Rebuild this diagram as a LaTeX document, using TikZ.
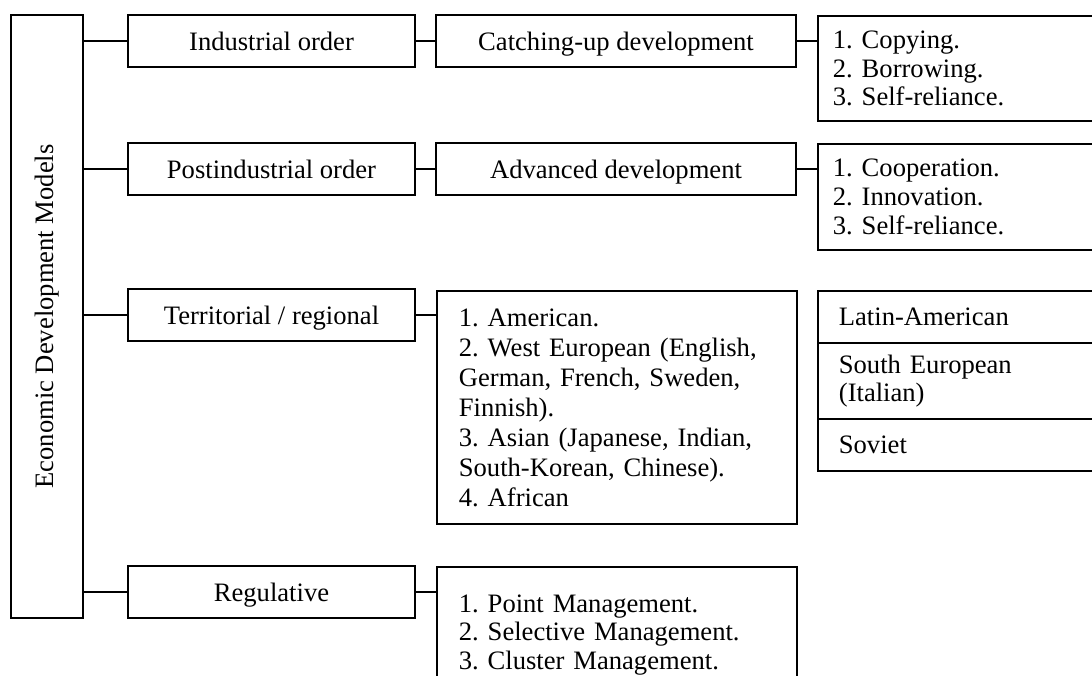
\documentclass[tikz,border=0pt]{standalone}
\usepackage{fontspec}
\setmainfont{Liberation Serif}
\usepackage{tikz}
\usetikzlibrary{calc}
\frenchspacing
\tikzstyle{box}=[rectangle, draw=black, line width=0.9pt, inner sep=0pt, font=\fontsize{13.3}{14.3}\selectfont, anchor=center]
\tikzstyle{kind}=[box, minimum width=143.5pt, minimum height=26pt, text height=11pt, text depth=2pt]
\tikzstyle{stage}=[box, minimum width=180pt, minimum height=26pt, text height=11pt, text depth=2pt]
\tikzstyle{midlist}=[box, anchor=north west, minimum width=180pt, inner xsep=11pt, text width=158pt, align=left]
\tikzstyle{sidelist}=[box, anchor=north west, minimum width=141.5pt, inner xsep=7.5pt, text width=126.5pt, align=left]
\tikzstyle{sidecell}=[box, anchor=north west, minimum width=141.5pt, inner xsep=10.5pt, text width=120.5pt, align=left]
\tikzstyle{link}=[draw=black, line width=0.9pt]

\begin{document}
\begin{tikzpicture}[x=0.5pt, y=-0.5pt]
	\useasboundingbox (0,0) rectangle (1092,675);
	\clip (0,0) rectangle (1092,675);

	% root
	\node[box, minimum width=36pt, minimum height=301.5pt](models) at (47,316.5){};
	\node[box, draw=none, rotate=90](modelstext) at (models.center){Economic Development Models};

	% first level
	\node[kind](industrial) at (271.5,41){Industrial order};
	\node[kind](postind) at (271.5,169){Postindustrial order};
	\node[kind](territorial) at (271.5,315){Territorial / regional};
	\node[kind](regulative) at (271.5,592){Regulative};

	% second level
	\node[stage](catching) at (616,41){Catching-up development};
	\node[stage](advanced) at (616,169){Advanced development};
	\node[midlist, minimum height=116.5pt, font=\fontsize{13.3}{15}\selectfont](regions) at (436,290){1. American.\\ 2. West European (English,\\ German, French, Sweden,\\ Finnish).\\ 3. Asian (Japanese, Indian,\\ South-Korean, Chinese).\\ 4. African};
	\node[midlist, minimum height=68pt](management) at (436,566){1. Point Management.\\ 2. Selective Management.\\ 3. Cluster Management.};

	% third level
	\node[sidelist, minimum height=52.5pt](catchlist) at (817,15){1. Copying.\\ 2. Borrowing.\\ 3. Self-reliance.};
	\node[sidelist, minimum height=53pt](advlist) at (817,143){1. Cooperation.\\ 2. Innovation.\\ 3. Self-reliance.};
	\node[sidecell, minimum height=26pt](latin) at (817,290){Latin-American};
	\node[sidecell, minimum height=38pt](southeu) at (817,342){South European\\ (Italian)};
	\node[sidecell, minimum height=26pt](soviet) at (817,418){Soviet};

	\foreach \n in {industrial,postind,territorial,regulative}
		\draw[link] (models.east |- \n.west) -- (\n.west);
	\draw[link] (industrial.east) -- (catching.west);
	\draw[link] (postind.east) -- (advanced.west);
	\draw[link] (territorial.east) -- (territorial.east -| regions.west);
	\draw[link] (regulative.east) -- (regulative.east -| management.west);
	\draw[link] (catching.east) -- (catching.east -| catchlist.west);
	\draw[link] (advanced.east) -- (advanced.east -| advlist.west);
\end{tikzpicture}
\end{document}
